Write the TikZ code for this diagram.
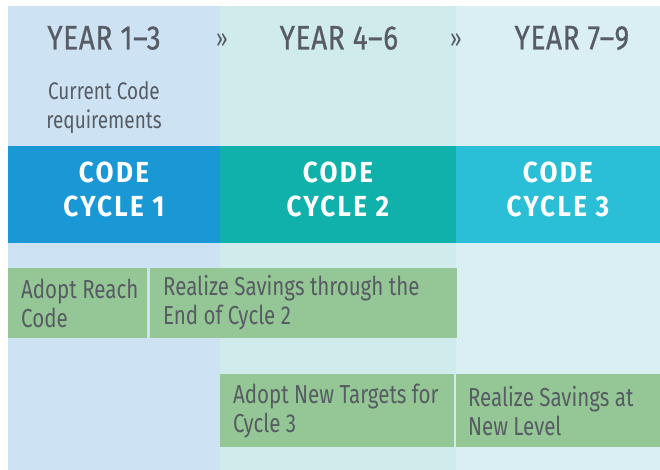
\documentclass[tikz,border=0pt]{standalone}
\usepackage{fontspec}
\setmainfont[FakeStretch=0.79]{Fira Sans}
\newfontfamily\headfont[FakeStretch=0.82,LetterSpace=2,FakeBold=0.6]{Fira Sans}
\newfontfamily\cyclefont[FakeStretch=0.9,LetterSpace=8]{Fira Sans}
\usetikzlibrary{positioning}
\definecolor{paleA}{HTML}{CDE3F3}
\definecolor{paleB}{HTML}{D0EBEB}
\definecolor{paleC}{HTML}{D9EFF4}
\definecolor{cycA}{HTML}{1A98D6}
\definecolor{cycB}{HTML}{10B1AA}
\definecolor{cycC}{HTML}{2ABFD6}
\definecolor{barG}{HTML}{94C795}
\definecolor{txtG}{HTML}{575B63}
\tikzset{
  every picture/.style={line join=round, line cap=round},
  year/.style={text=txtG, font=\headfont\fontsize{34}{38}\selectfont, inner sep=0pt},
  sepmark/.style={text=txtG, font=\fontsize{26}{30}\selectfont, inner sep=0pt},
  note/.style={text=txtG, font=\fontsize{24}{29}\selectfont, align=center, inner sep=0pt},
  cycle/.style={text=white, font=\cyclefont\bfseries\fontsize{29}{34}\selectfont, align=center, inner sep=0pt},
  bar/.style={fill=barG, anchor=north west, inner sep=0pt, minimum height=70pt},
  bartext/.style={text=txtG, font=\fontsize{26}{29}\selectfont, align=left, anchor=west, inner sep=0pt},
}

\begin{document}
\begin{tikzpicture}[x=1pt,y=-1pt]
\fill[white](0,0)rectangle(660,470);
% columns
\fill[paleA](8,6)rectangle(220,470);
\fill[paleB](220,6)rectangle(456,470);
\fill[paleC](456,6)rectangle(660,470);
\fill[cycA](8,146)rectangle(220,243);
\fill[cycB](220,146)rectangle(456,243);
\fill[cycC](456,146)rectangle(660,243);
% header
\node[year](y1)at(104,38){YEAR 1–3};
\node[year](y2)at(339,38){YEAR 4–6};
\node[year](y3)at(572,38){YEAR 7–9};
\node[sepmark](s1)at(222,41){»};
\node[sepmark](s2)at(456,41){»};
\node[note](req)at(104,108){Current Code\\requirements};
% code cycles
\node[cycle](c1)at(114,190){CODE\\CYCLE 1};
\node[cycle](c2)at(338,190){CODE\\CYCLE 2};
\node[cycle](c3)at(558,190){CODE\\CYCLE 3};
% steps
\node[bar,minimum width=139pt](reach)at(8,268){};
\node[bar,minimum width=307pt](save1)at(150,268){};
\node[bar,minimum width=234pt,minimum height=73pt](target)at(220,374){};
\node[bar,minimum width=204pt,minimum height=73pt](save2)at(456,374){};
\node[bartext,right=13pt of reach.west](reachT){Adopt Reach\\Code};
\node[bartext,right=13pt of save1.west](save1T){Realize Savings through the\\End of Cycle 2};
\node[bartext,right=13pt of target.west](targetT){Adopt New Targets for\\Cycle 3};
\node[bartext,right=12pt of save2.west](save2T){Realize Savings at\\New Level};
\end{tikzpicture}
\end{document}
